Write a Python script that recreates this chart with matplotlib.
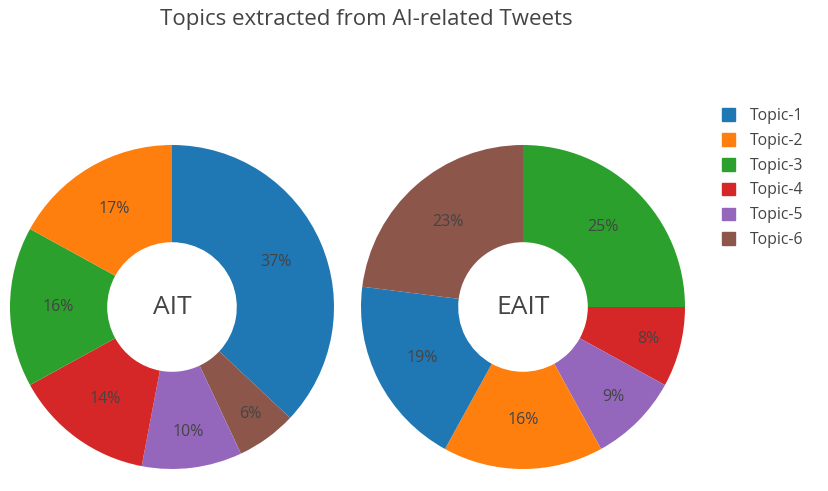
import matplotlib.pyplot as plt
from matplotlib.patches import Patch

plt.rcParams['font.family'] = ['Open Sans', 'DejaVu Sans']

topics = ['Topic-1', 'Topic-2', 'Topic-3', 'Topic-4', 'Topic-5', 'Topic-6']
colors = ['#1f77b4', '#ff7f0e', '#2ca02c', '#d62728', '#9467bd', '#8c564b']

# shares per topic, listed clockwise from 12 o'clock as drawn
ait_order = ['Topic-1', 'Topic-6', 'Topic-5', 'Topic-4', 'Topic-3', 'Topic-2']
ait_values = [37, 6, 10, 14, 16, 17]
eait_order = ['Topic-3', 'Topic-4', 'Topic-5', 'Topic-2', 'Topic-1', 'Topic-6']
eait_values = [25, 8, 9, 16, 19, 23]

W, H = 829, 491
fig = plt.figure(figsize=(W / 100, H / 100), dpi=100)


def donut(cx, cy, r, names, values, label):
    ax = fig.add_axes([(cx - r) / W, (H - cy - r) / H, 2 * r / W, 2 * r / H])
    cols = [colors[topics.index(n)] for n in names]
    wedges, texts, pcts = ax.pie(values, colors=cols, startangle=90, counterclock=False, radius=1,
                                 wedgeprops=dict(width=0.6, linewidth=0),
                                 autopct='%d%%', pctdistance=0.7,
                                 textprops=dict(color='#444444', fontsize=11.5))
    # narrow slices get their label pushed outward, like plotly does
    for v, t in zip(values, pcts):
        if v < 12:
            x, y = t.get_position()
            k = (0.88 - 0.01 * v) / 0.7
            t.set_position((x * k, y * k))
    ax.text(0, 0, label, ha='center', va='center', fontsize=19, color='#444444')
    ax.set_xlim(-1, 1)
    ax.set_ylim(-1, 1)
    ax.set_aspect('equal')
    ax.axis('off')


donut(172, 307, 162, ait_order, ait_values, 'AIT')
donut(523, 307, 162, eait_order, eait_values, 'EAIT')

fig.text(366 / W, 1 - 20 / H, 'Topics extracted from AI-related Tweets',
         ha='center', va='center', fontsize=16, color='#444444')

handles = [Patch(facecolor=c, edgecolor=c) for c in colors]
fig.legend(handles, topics, loc='upper left', bbox_to_anchor=(708 / W, 1 - 94 / H),
           frameon=False, fontsize=11.3, labelcolor='#444444',
           handlelength=0.85, handleheight=0.85, handletextpad=0.95, labelspacing=0.56)

fig.savefig('out.png', dpi=100)
